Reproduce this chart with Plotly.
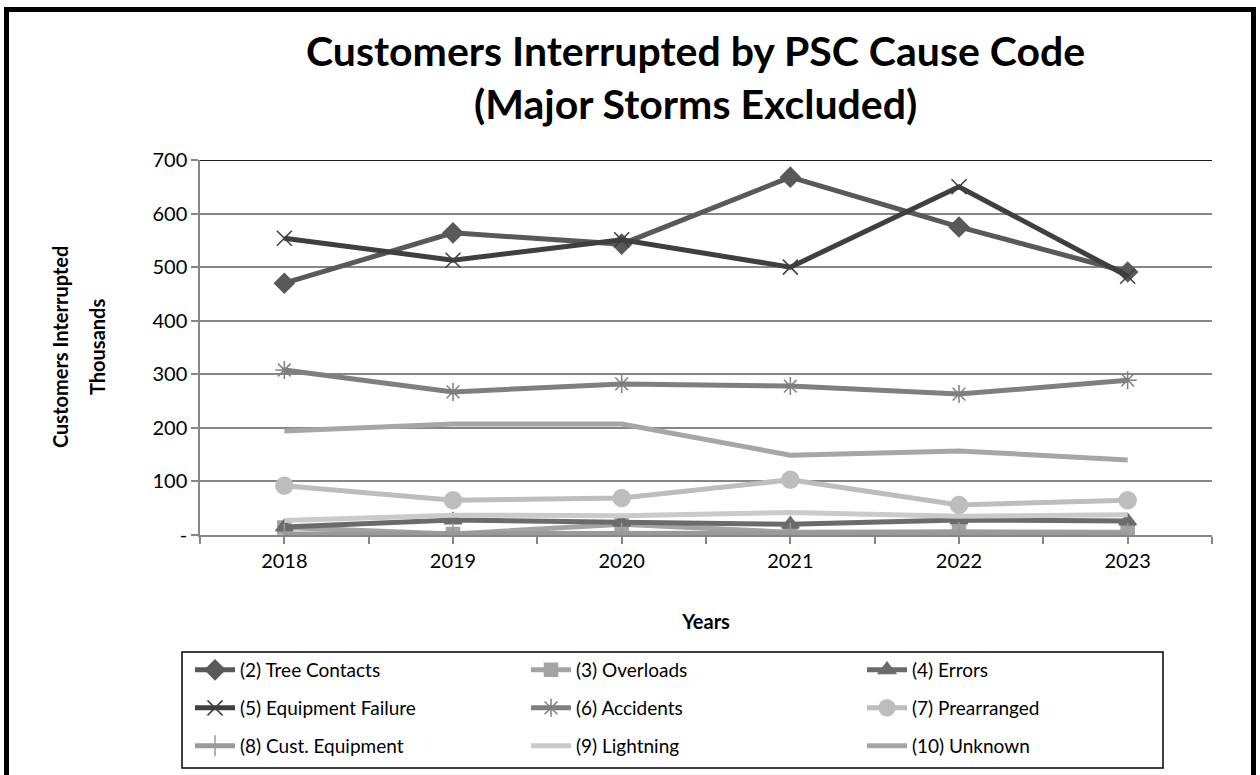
import plotly.graph_objects as go

years = [2018, 2019, 2020, 2021, 2022, 2023]

tree_contacts = [470, 564, 543, 668, 575, 491]
overloads = [14, 2, 20, 5, 6, 5]
errors = [15, 28, 24, 20, 28, 26]
equipment_failure = [554, 513, 551, 500, 650, 483]
accidents = [308, 267, 282, 278, 263, 289]
prearranged = [92, 65, 69, 103, 56, 65]
cust_equipment = [2, 3, 4, 3, 4, 3]
lightning = [27, 37, 36, 42, 35, 38]
unknown = [194, 207, 207, 149, 157, 140]

# name, values, colour, marker symbol, marker size, legend row
series = [
    ("(2) Tree Contacts", tree_contacts, "#595959", "diamond", 15, "legend"),
    ("(3) Overloads", overloads, "#a3a3a3", "square", 13, "legend"),
    ("(4) Errors", errors, "#6b6b6b", "triangle-up", 15, "legend"),
    ("(5) Equipment Failure", equipment_failure, "#3f3f3f", "x-thin-open", 15, "legend2"),
    ("(6) Accidents", accidents, "#7f7f7f", "asterisk-open", 15, "legend2"),
    ("(7) Prearranged", prearranged, "#bdbdbd", "circle", 17, "legend2"),
    ("(8) Cust. Equipment", cust_equipment, "#9a9a9a", "line-ns-open", 15, "legend3"),
    ("(9) Lightning", lightning, "#cacaca", None, 0, "legend3"),
    ("(10) Unknown", unknown, "#a6a6a6", None, 0, "legend3"),
]

FONT = "Lato"

fig = go.Figure()
for name, vals, color, symbol, size, leg in series:
    if symbol is None:
        mode = "lines"
        marker = None
    else:
        mode = "lines+markers"
        marker = dict(symbol=symbol, size=size, color=color,
                      line=dict(color=color, width=1.5))
    fig.add_trace(go.Scatter(
        x=years, y=vals, name=name, mode=mode,
        line=dict(color=color, width=5),
        marker=marker, legend=leg,
    ))

# plot-area geometry in pixels
L, R, T, B = 200, 48, 160, 240
W, H = 1260, 775
pw, ph = W - L - R, H - T - B

def px_x(p):
    return (p - L) / pw

def px_y(p):
    return (H - B - p) / ph

# outer frame
fig.add_shape(type="rect", xref="paper", yref="paper",
              x0=px_x(6.5), x1=px_x(1253.5), y0=px_y(820), y1=px_y(9.5),
              line=dict(color="black", width=5), fillcolor="rgba(0,0,0,0)",
              layer="below")
# dark top edge of the plot area at 700
fig.add_shape(type="line", xref="paper", yref="y", x0=0, x1=1, y0=700, y1=700,
              line=dict(color="#1a1a1a", width=2))
# legend box
fig.add_shape(type="rect", xref="paper", yref="paper",
              x0=px_x(182), x1=px_x(1163), y0=px_y(768), y1=px_y(652),
              line=dict(color="black", width=1.5), fillcolor="white",
              layer="below")

fig.add_annotation(
    text="<b>Customers Interrupted by PSC Cause Code<br>(Major Storms Excluded)</b>",
    xref="paper", yref="paper", x=px_x(695), y=px_y(77),
    xanchor="center", yanchor="middle", showarrow=False,
    font=dict(family=FONT, size=41, color="black"),
)
fig.add_annotation(
    text="<b>Customers Interrupted</b>", textangle=-90,
    xref="paper", yref="paper", x=px_x(60), y=px_y(347),
    xanchor="center", yanchor="middle", showarrow=False,
    font=dict(family=FONT, size=20, color="black"),
)
fig.add_annotation(
    text="<b>Thousands</b>", textangle=-90,
    xref="paper", yref="paper", x=px_x(97), y=px_y(347),
    xanchor="center", yanchor="middle", showarrow=False,
    font=dict(family=FONT, size=20, color="black"),
)

legend_common = dict(
    orientation="h", xanchor="left", yanchor="middle",
    xref="paper", yref="paper",
    borderwidth=0, bgcolor="rgba(0,0,0,0)",
    font=dict(family=FONT, size=19, color="black"),
    entrywidth=281, entrywidthmode="pixels", itemwidth=40,
)

fig.update_layout(
    width=W, height=H,
    margin=dict(l=L, r=R, t=T, b=B, autoexpand=False),
    paper_bgcolor="white", plot_bgcolor="white",
    font=dict(family=FONT, color="black", size=19),
    showlegend=True,
    legend=dict(legend_common, x=px_x(190), y=px_y(670)),
    legend2=dict(legend_common, x=px_x(190), y=px_y(708)),
    legend3=dict(legend_common, x=px_x(190), y=px_y(746)),
    xaxis=dict(
        range=[2017.5, 2023.5], tickmode="array", tickvals=years,
        ticktext=[str(y) for y in years],
        showgrid=False, zeroline=False,
        showline=True, linecolor="#868686", linewidth=1.5,
        ticks="outside", ticklen=7, tickcolor="#868686", tickwidth=1.5,
        minor=dict(tickmode="linear", tick0=2017.5, dtick=0.5, ticks="outside",
                   ticklen=7, tickcolor="#868686", tickwidth=1.5, showgrid=False),
        tickfont=dict(size=20),
        title=dict(text="<b>Years</b>", font=dict(size=20), standoff=44),
    ),
    yaxis=dict(
        range=[0, 700], tickmode="array",
        tickvals=[0, 100, 200, 300, 400, 500, 600, 700],
        ticktext=["-", "100", "200", "300", "400", "500", "600", "700"],
        showgrid=True, gridcolor="#868686", gridwidth=1.5,
        zeroline=False,
        showline=True, linecolor="#868686", linewidth=1.5,
        ticks="outside", ticklen=7, tickcolor="#868686", tickwidth=1.5,
        tickfont=dict(size=20),
    ),
)

fig.write_html("out.html")
